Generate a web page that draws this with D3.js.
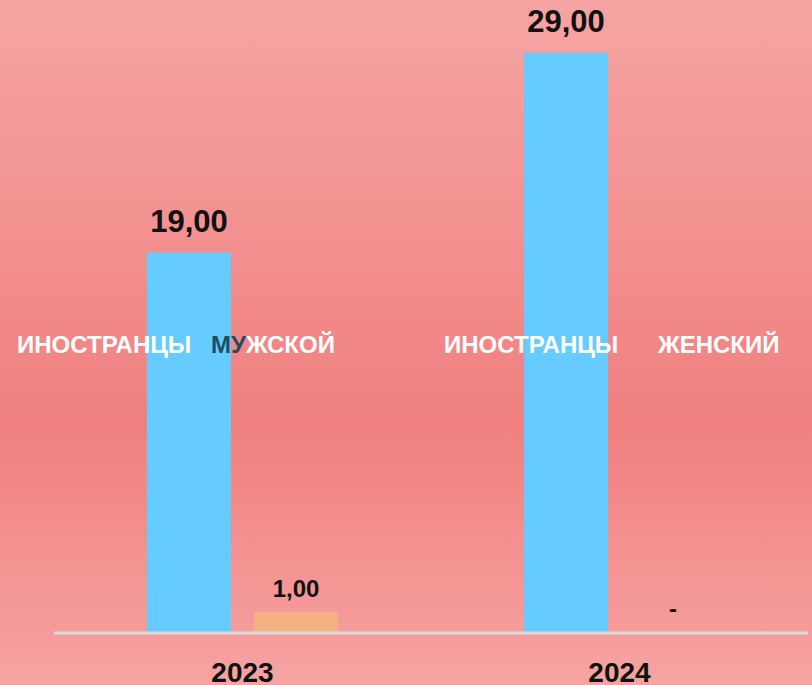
<!DOCTYPE html>
<html lang="ru">
<head>
<meta charset="UTF-8">
<title>Иностранцы</title>
<script src="https://d3js.org/d3.v7.min.js"></script>
<style>
  body { margin: 0; padding: 0; }
  svg { display: block; font-family: "Liberation Sans", Arial, sans-serif; font-weight: bold; }
</style>
</head>
<body>
<svg width="812" height="685"></svg>
<script>
  // данные
  const years = ["2023", "2024"];
  const series = ["ИНОСТРАНЦЫ", "ПОЛ"];
  const foreigners = [19, 29];
  const gender = [1, 0];
  const genderNames = ["МУЖСКОЙ", "ЖЕНСКИЙ"];
  const colors = ["#66ccff", "#f4b183"];

  const width = 812, height = 685;
  const svg = d3.select("svg");

  // фон с градиентом
  const grad = svg.append("defs").append("linearGradient")
    .attr("id", "bg").attr("x1", 0).attr("y1", 0).attr("x2", 0).attr("y2", 1);
  grad.append("stop").attr("offset", "0%").attr("stop-color", "#f5a5a3");
  grad.append("stop").attr("offset", "62%").attr("stop-color", "#f08080");
  grad.append("stop").attr("offset", "100%").attr("stop-color", "#f6a4a2");
  svg.append("rect").attr("width", width).attr("height", height).attr("fill", "url(#bg)");

  const axisY = 632;
  const x0 = d3.scaleBand().domain(years).range([54, 808]).padding(0);
  const x1 = d3.scaleBand().domain(series).range([0, x0.bandwidth()])
    .paddingInner(0.215).paddingOuter(0.869);
  const y = d3.scaleLinear().domain([0, 29]).range([axisY, 53]);

  const rows = years.map((yr, i) => ({ year: yr, values: [foreigners[i], gender[i]] }));
  const fmt = v => v === 0 ? "-" : d3.format(".2f")(v).replace(".", ",");

  const groups = svg.selectAll("g.year").data(rows).join("g")
    .attr("class", "year")
    .attr("transform", d => `translate(${x0(d.year)},0)`);

  groups.selectAll("rect").data(d => d.values.map((v, j) => ({ key: series[j], v, j })))
    .join("rect")
    .attr("x", d => x1(d.key))
    .attr("y", d => y(d.v))
    .attr("width", x1.bandwidth())
    .attr("height", d => axisY - y(d.v))
    .attr("fill", d => colors[d.j]);

  groups.selectAll("text.val").data(d => d.values.map((v, j) => ({ key: series[j], v, j })))
    .join("text")
    .attr("class", "val")
    .attr("x", d => x1(d.key) + x1.bandwidth() / 2)
    .attr("y", d => y(d.v) - (d.j === 0 ? 21 : 15))
    .attr("text-anchor", "middle")
    .attr("font-size", d => d.j === 0 ? 31 : 24)
    .attr("fill", "#111")
    .text(d => fmt(d.v));

  // ось
  svg.append("line")
    .attr("x1", 54).attr("x2", 808)
    .attr("y1", axisY + 1).attr("y2", axisY + 1)
    .attr("stroke", "#d9d9d9").attr("stroke-width", 3);

  svg.selectAll("text.yr").data(years).join("text")
    .attr("class", "yr")
    .attr("x", d => x0(d) + x0.bandwidth() / 2)
    .attr("y", 682)
    .attr("text-anchor", "middle")
    .attr("font-size", 28)
    .attr("fill", "#111")
    .text(d => d);

  // подписи категорий
  const labelOffsets = [[-37, 157], [13, 227]];
  years.forEach((yr, i) => {
    const lbl = [series[0], genderNames[i]];
    lbl.forEach((t, j) => {
      const el = svg.append("text")
        .attr("x", x0(yr) + labelOffsets[i][j])
        .attr("y", 353)
        .attr("font-size", 24)
        .attr("fill", "#fff");
      if (i === 0 && j === 1) {
        el.append("tspan").attr("fill", "#1f4e5f").text(t.slice(0, 2));
        el.append("tspan").text(t.slice(2));
      } else {
        el.text(t);
      }
    });
  });
</script>
</body>
</html>
